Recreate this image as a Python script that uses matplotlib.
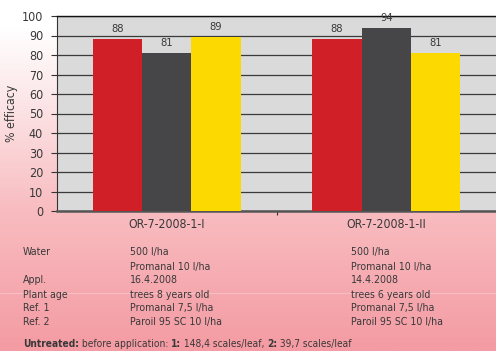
import numpy as np
import matplotlib
matplotlib.use("Agg")
import matplotlib.pyplot as plt
from matplotlib.colors import LinearSegmentedColormap

plt.rcParams['font.family'] = ['DejaVu Sans']
plt.rcParams['font.stretch'] = 'condensed'

trials = ["OR-7-2008-1-I", "OR-7-2008-1-II"]
untreated_vals = [88, 88]
ref1_vals = [81, 94]
ref2_vals = [89, 81]
bar_colors = ["#d01f27", "#464648", "#fcd900"]
yticks = [0, 10, 20, 30, 40, 50, 60, 70, 80, 90, 100]

row_labels = ["Water", "", "Appl.", "Plant age", "Ref. 1", "Ref. 2"]
col1 = ["500 l/ha", "Promanal 10 l/ha", "16.4.2008", "trees 8 years old",
        "Promanal 7,5 l/ha", "Paroil 95 SC 10 l/ha"]
col2 = ["500 l/ha", "Promanal 10 l/ha", "14.4.2008", "trees 6 years old",
        "Promanal 7,5 l/ha", "Paroil 95 SC 10 l/ha"]
row_base = [255, 270, 283, 298, 311, 325]

txt = "#383838"
H = 351.0
W = 496.0

fig = plt.figure(figsize=(4.96, 3.51), dpi=100)

# background gradient
bg = fig.add_axes([0, 0, 1, 1], zorder=-10)
cmap = LinearSegmentedColormap.from_list(
    "bgpink", [(0, "#ffffff"), (0.08, "#ffffff"), (0.3, "#fce4e6"),
               (0.6, "#f8bcc0"), (1.0, "#f49ba3")])
grad = np.linspace(0, 1, 256).reshape(-1, 1)
bg.imshow(grad, aspect="auto", cmap=cmap, extent=[0, 1, 1, 0])
bg.axhline(292.5 / H, color="white", lw=0.6, alpha=0.3)
bg.set_xlim(0, 1)
bg.set_ylim(1, 0)
bg.axis("off")

ax = fig.add_axes([57 / W, 1 - 211 / H, 1 - 57 / W, 195 / H])
ax.set_facecolor("#dadadb")

w = 0.225
x = np.arange(len(trials))
series = [untreated_vals, ref1_vals, ref2_vals]
for i, vals in enumerate(series):
    pos = x + (i - 1) * w
    ax.bar(pos, vals, w, color=bar_colors[i], zorder=3)
    for p, v in zip(pos, vals):
        ax.text(p, v + 3.6, str(v), ha="center", va="baseline", fontsize=8,
                color=txt, zorder=4)

ax.set_xlim(-0.5, 1.5)
ax.set_ylim(0, 100)
ax.set_yticks(yticks)
ax.tick_params(axis="y", direction="out", length=4, color="#333333", labelsize=9,
               labelcolor=txt, pad=6)
ax.yaxis.grid(True, color="#3a3a3a", linewidth=0.9, zorder=1)
ax.set_axisbelow(True)

ax.set_xticks([0.5])
ax.set_xticklabels([""])
ax.tick_params(axis="x", which="major", direction="out", length=3, color="#333333")
ax.set_xticks(x, minor=True)
ax.set_xticklabels(trials, minor=True)
ax.tick_params(axis="x", which="minor", length=0, labelsize=8.8, labelcolor=txt, pad=5)

ax.spines["right"].set_visible(False)
ax.spines["top"].set_color("#111111")
ax.spines["top"].set_linewidth(1.0)
ax.spines["left"].set_color("#333333")
ax.spines["bottom"].set_color("#555555")
ax.spines["bottom"].set_linewidth(1.8)

ax.set_ylabel("% efficacy", fontsize=8.8, color=txt)
ax.yaxis.set_label_coords((18 - 57) / (W - 57), 0.5)

for lab, a, b, yy in zip(row_labels, col1, col2, row_base):
    yf = 1 - yy / H
    fig.text(23 / W, yf, lab, fontsize=7.6, color=txt, va="baseline")
    fig.text(130 / W, yf, a, fontsize=7.6, color=txt, va="baseline")
    fig.text(351 / W, yf, b, fontsize=7.6, color=txt, va="baseline")

parts = [("Untreated:", "bold"), (" before application: ", "normal"), ("1:", "bold"),
         (" 148,4 scales/leaf, ", "normal"), ("2:", "bold"), (" 39,7 scales/leaf", "normal")]
renderer = fig.canvas.get_renderer()
xpos = 23
for s, wgt in parts:
    t = fig.text(xpos / W, 1 - 347 / H, s, fontsize=7.3, color=txt, va="baseline",
                 fontweight=wgt)
    bb = t.get_window_extent(renderer=renderer)
    xpos += bb.width

fig.savefig("out.png", dpi=100)
